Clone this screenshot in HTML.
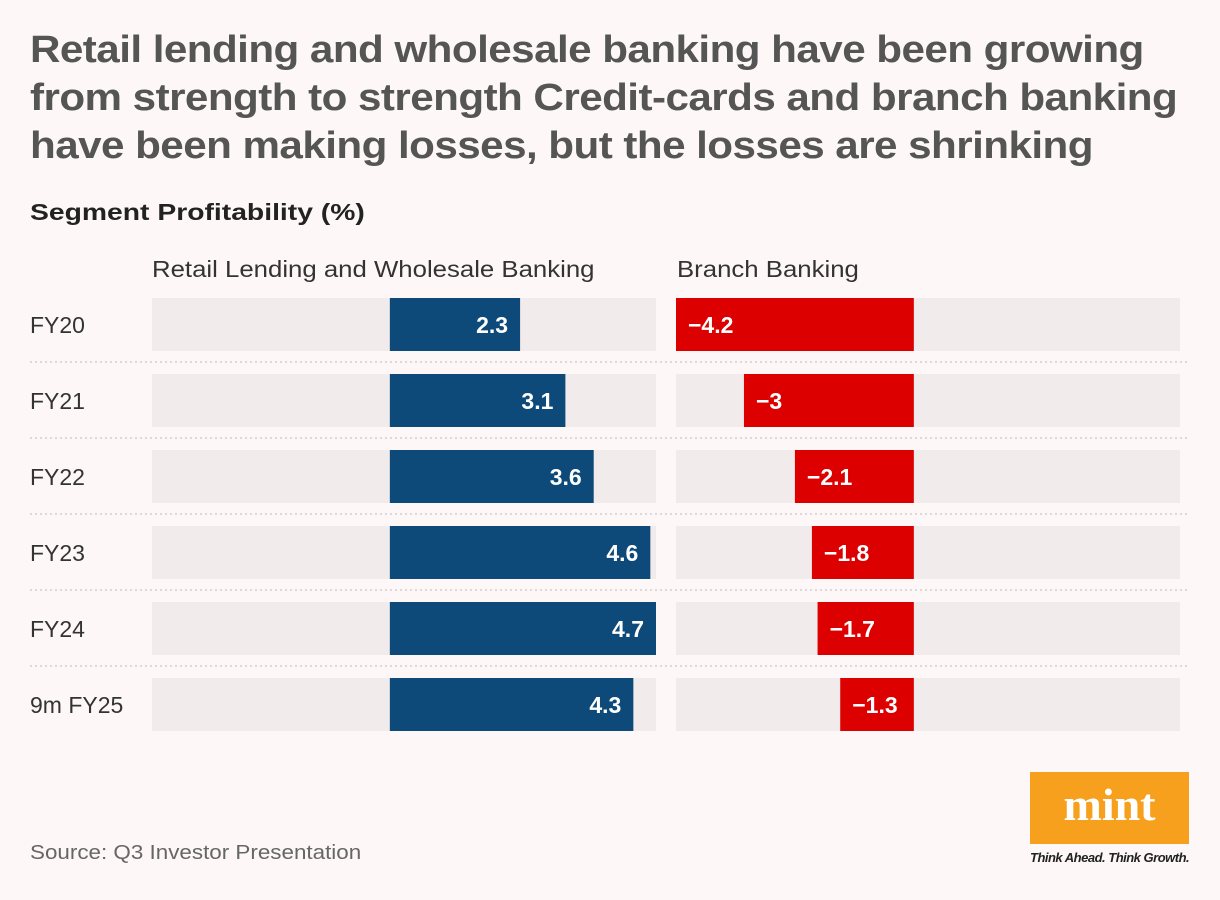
<!DOCTYPE html>
<html><head><meta charset="utf-8"><style>
body{margin:0;width:1220px;height:900px;background:#fdf8f7;font-family:"Liberation Sans",sans-serif;overflow:hidden;position:relative}
.t{position:absolute;left:30px;top:26px;font-size:38px;font-weight:bold;color:#555;line-height:48px;letter-spacing:-0.5px;transform:scaleX(1.11);transform-origin:0 0;white-space:nowrap}
.s{position:absolute;left:30px;top:199px;font-size:23px;font-weight:bold;color:#222;transform:scaleX(1.23);transform-origin:0 0;white-space:nowrap}
.h{position:absolute;top:256px;font-size:23px;color:#333;transform:scaleX(1.12);transform-origin:0 0;white-space:nowrap}
.src{position:absolute;left:30px;top:842px;font-size:20px;color:#666;transform:scaleX(1.12);transform-origin:0 0;white-space:nowrap}
</style></head><body>
<div class="t">Retail lending and wholesale banking have been growing<br>from strength to strength Credit-cards and branch banking<br>have been making losses, but the losses are shrinking</div>
<div class="s">Segment Profitability (%)</div>
<div class="h" style="left:152px">Retail Lending and Wholesale Banking</div>
<div class="h" style="left:677px">Branch Banking</div>
<svg id="c" width="1220" height="900" style="position:absolute;left:0;top:0"></svg>
<div class="src">Source: Q3 Investor Presentation</div>
<div style="position:absolute;left:1030px;top:772px;width:159px;height:72px;background:#f7a01d;color:#fff;font-family:'Liberation Serif',serif;font-weight:bold;font-size:46px;text-align:center;line-height:66px">mint</div>
<div style="position:absolute;left:1030px;top:850px;font-size:13px;font-style:italic;font-weight:bold;color:#222;letter-spacing:-0.5px">Think Ahead. Think Growth.</div>
<script>
const categories=["FY20","FY21","FY22","FY23","FY24","9m FY25"];
const retail=[2.3,3.1,3.6,4.6,4.7,4.3];
const branch=[-4.2,-3,-2.1,-1.8,-1.7,-1.3];
const domainMin=-4.2, domainMax=4.7;
const svg=document.getElementById('c');
const NS="http://www.w3.org/2000/svg";
function mk(t,a){const e=document.createElementNS(NS,t);for(const k in a)e.setAttribute(k,a[k]);svg.appendChild(e);return e;}
function xs(x0){const w=504;return v=>x0+(v-domainMin)/(domainMax-domainMin)*w;}
const panels=[{x0:152,vals:retail,col:"#0d4a79",n:"retail"},{x0:676,vals:branch,col:"#dd0000",n:"branch"}];
const rowY=i=>298+i*76, bh=53;
categories.forEach((c,i)=>{
  const y=rowY(i);
  const lab=mk('text',{x:30,y:y+35,'font-size':23,fill:'#333'});lab.textContent=c;
  
  
  if(i<categories.length-1){const l=mk('line',{x1:30,x2:1190,y1:y+64,y2:y+64,stroke:'#bbb','stroke-dasharray':'2,3'});
  
  }
  panels.forEach(p=>{
    const x=xs(p.x0);
    const bg=mk('rect',{x:p.x0,y:y,width:504,height:bh,fill:'#f1eceb'});
    
    
    const v=p.vals[i],z=x(0),e=x(v);
    const r=mk('rect',{x:Math.min(z,e),y:y,width:Math.abs(e-z),height:bh,fill:p.col});
    
    
    const t=mk('text',{x:v>=0?e-12:e+12,y:y+35,'font-size':23,'font-weight':'bold',fill:'#fff','text-anchor':v>=0?'end':'start'});
    t.textContent=(v<0?'\u2212':'')+Math.abs(v);
    
    
  });
});
</script>
</body></html>
